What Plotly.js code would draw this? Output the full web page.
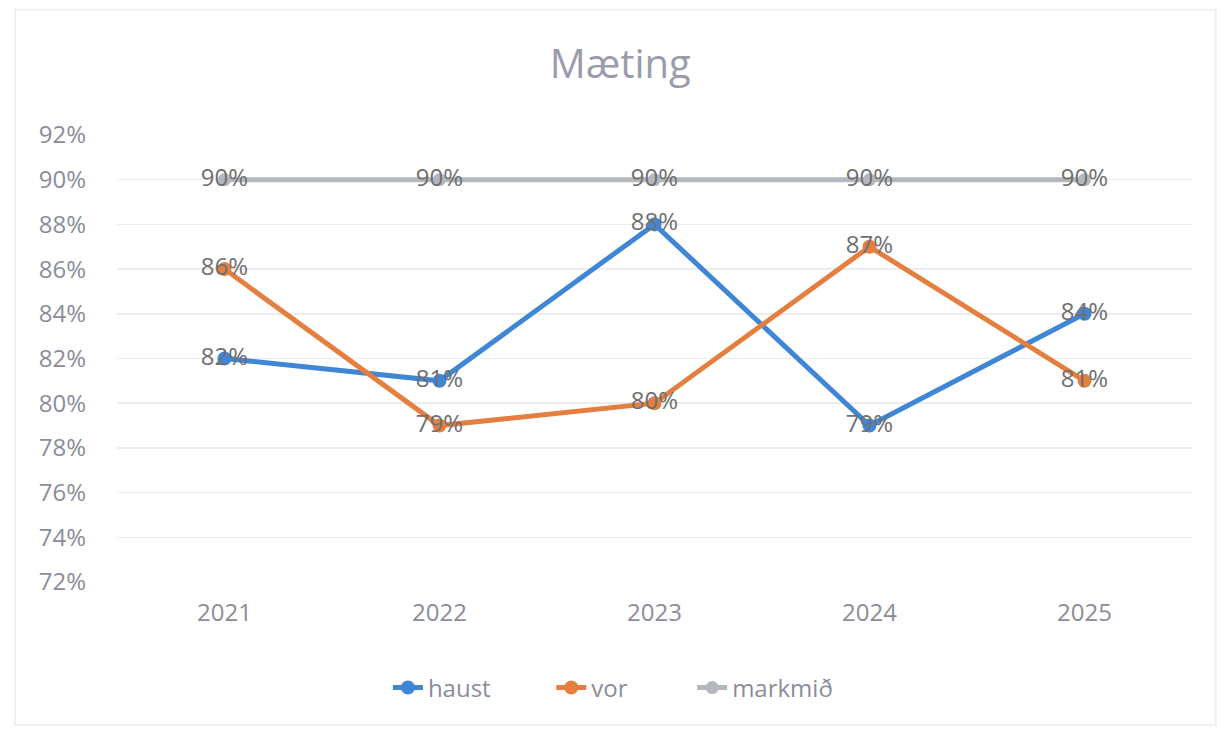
<!DOCTYPE html>
<html><head><meta charset="utf-8">
<script src="https://cdn.plot.ly/plotly-3.0.1.min.js"></script>
<style>html,body{margin:0;padding:0;background:#fff}#chart{width:1221px;height:731px}</style>
</head><body><div id="chart"></div>
<script>
const years = ['2021','2022','2023','2024','2025'];
const haust = [82, 81, 88, 79, 84];
const vor = [86, 79, 80, 87, 81];
const markmid = [90, 90, 90, 90, 90];
const yTicks = [72, 74, 76, 78, 80, 82, 84, 86, 88, 90, 92];

const FONT = '"Open Sans", Lato, sans-serif';
const labelFont = {family: FONT, size: 24, color: '#6f6f6f'};

function series(name, y, color, lw, ms, leg) {
  return {
    type: 'scatter', mode: 'lines+markers+text', name: name, legend: leg,
    x: years, y: y,
    line: {color: color, width: lw},
    marker: {color: color, size: ms},
    text: y.map(v => v + '%'), textposition: 'middle center',
    hoverinfo: 'skip',
    textfont: labelFont, cliponaxis: false
  };
}

const data = [
  series('haust', haust, '#3f86d6', 5, 14, 'legend'),
  series('vor', vor, '#e47f3f', 5, 14, 'legend2'),
  series('markmið', markmid, '#b4b8bc', 5, 13, 'legend3')
];

function leg(x) {
  return {orientation: 'h', x: x, xanchor: 'left', y: -0.237, yanchor: 'middle',
          font: {family: FONT, size: 24, color: '#8a8d99'}, itemwidth: 30, bgcolor: 'rgba(0,0,0,0)'};
}

const layout = {
  width: 1221, height: 731,
  paper_bgcolor: '#ffffff', plot_bgcolor: '#ffffff',
  margin: {l: 117, r: 29, t: 135, b: 149},
  font: {family: FONT, color: '#8a8d99'},
  title: {text: 'Mæting', font: {family: FONT, size: 40, color: '#9a9cab'}, x: 0.508, xanchor: 'center', y: 0.912, yanchor: 'middle'},
  xaxis: {type: 'category', range: [-0.5, 4.5], showgrid: false, zeroline: false, showline: false,
          tickfont: {family: FONT, size: 24, color: '#8a8d99'}, ticks: '', ticklabelstandoff: 14},
  yaxis: {range: [72, 92], tickvals: yTicks, ticktext: yTicks.map(v => v + '%'),
          showgrid: true, gridcolor: '#ececec', gridwidth: 1.5, zeroline: false, showline: false,
          tickfont: {family: FONT, size: 24, color: '#8a8d99'}, ticks: '', ticklabelstandoff: 30},
  showlegend: true,
  legend: leg(0.252),
  legend2: leg(0.404),
  legend3: leg(0.535),
  shapes: [{type: 'rect', xref: 'paper', yref: 'paper', x0: -0.095, x1: 1.022, y0: -0.32, y1: 1.28,
            line: {color: '#f0f0f0', width: 2}}]
};

Plotly.newPlot('chart', data, layout, {displayModeBar: false, staticPlot: true});
</script></body></html>
